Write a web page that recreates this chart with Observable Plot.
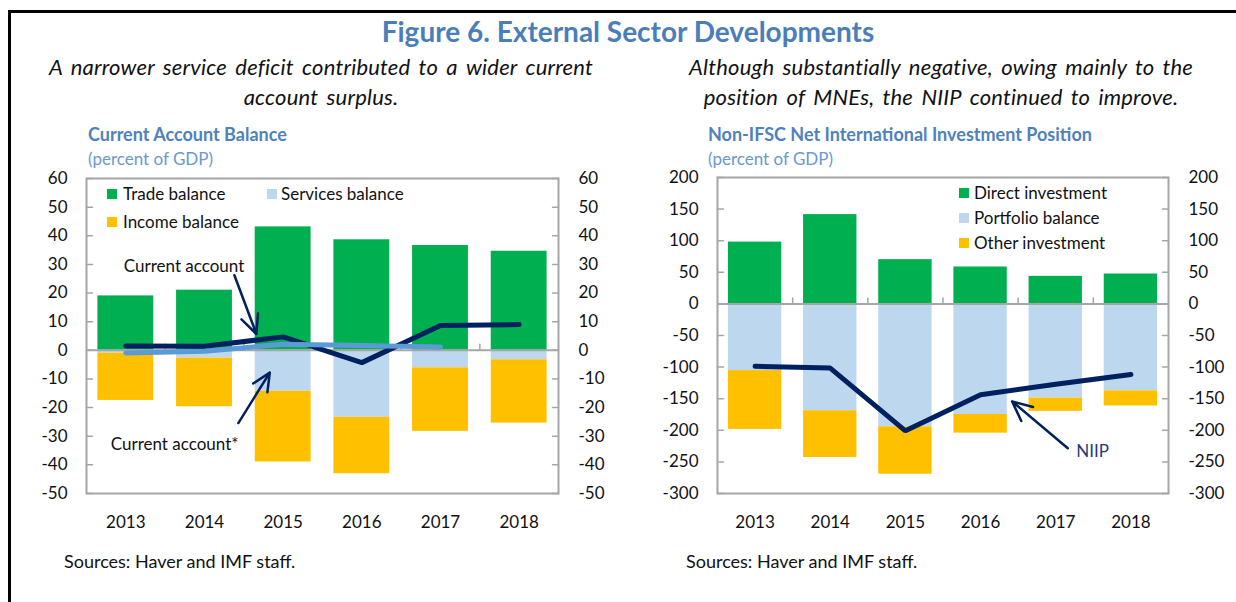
<!DOCTYPE html>
<html><head><meta charset="utf-8">
<script src="https://cdn.jsdelivr.net/npm/d3@7"></script>
<script src="https://cdn.jsdelivr.net/npm/@observablehq/plot@0.6"></script>
<style>
body{margin:0;background:#fff;}
#root{position:relative;width:1236px;height:602px;overflow:hidden;font-family:Lato,sans-serif;color:#111;}
.abs{position:absolute;white-space:nowrap;line-height:1;}
.sw{position:absolute;width:10px;height:10px;}
.chart{position:absolute;}
</style></head><body><div id="root"></div>
<script>
// ---------- data ----------
const years = [2013, 2014, 2015, 2016, 2017, 2018];
const tradeBalance    = [19.0, 21.0, 43.1, 38.6, 36.6, 34.6];
const servicesBalance = [-1.0, -2.7, -14.3, -23.4, -6.1, -3.3];
const incomeBalance   = [-16.5, -17.0, -24.7, -19.7, -22.2, -22.1];
const currentAccount  = [1.5, 1.4, 4.7, -4.3, 8.7, 9.0];
const caStarYears     = [2013, 2014, 2015, 2016, 2017];
const currentAccountStar = [-0.9, -0.3, 2.1, 1.7, 1.2];

const directInvestment = [97.8, 141.3, 70.0, 58.4, 43.6, 47.3];
const portfolioBalance = [-105.5, -169.0, -194.5, -175.0, -149.0, -137.5];
const otherInvestment  = [-93.1, -74.0, -75.0, -29.5, -21.0, -24.0];
const niip             = [-98.8, -101.5, -200.8, -143.7, -127.0, -111.8];

const leftTicks  = [-50, -40, -30, -20, -10, 0, 10, 20, 30, 40, 50, 60];
const rightTicks = [-300, -250, -200, -150, -100, -50, 0, 50, 100, 150, 200];
const leftSeries  = ["Trade balance", "Services balance", "Income balance"];
const rightSeries = ["Direct investment", "Portfolio balance", "Other investment"];

// ---------- styles ----------
const GREEN = "#00B050", LBLUE = "#BDD7EE", GOLD = "#FFC000", NAVY = "#002060", MBLUE = "#5B9BD5", GRAY = "#A6A6A6";
const palette = [GREEN, LBLUE, GOLD];
const half = 0.355;
const tickShape = {draw(ctx, l) { ctx.moveTo(0, 0); ctx.lineTo(0, -l); }};

function stackRows(seriesNames, arrays) {
  const rows = [];
  years.forEach((yr, i) => {
    let pos = 0, neg = 0;
    seriesNames.forEach((s, k) => {
      const v = arrays[k][i];
      let y1, y2;
      if (v >= 0) { y1 = pos; y2 = pos + v; pos = y2; } else { y1 = neg; y2 = neg + v; neg = y2; }
      rows.push({year: yr, series: s, y1, y2});
    });
  });
  return rows;
}

function makeChart({rows, series, domain, ticks, lines, arrows, labels, width, height, margins}) {
  const bounds = years.slice(0, -1).map(y => y + 0.5);
  return Plot.plot({
    width, height, ...margins,
    style: {fontFamily: "Lato, sans-serif", fontSize: "17px", color: "#111", background: "transparent", overflow: "visible"},
    x: {domain: [2012.5, 2018.5], label: null},
    y: {domain, label: null},
    color: {domain: series, range: palette},
    marks: [
      Plot.rect(rows, {x1: d => d.year - half, x2: d => d.year + half, y1: "y1", y2: "y2", fill: "series"}),
      Plot.ruleY([0], {stroke: GRAY, strokeWidth: 2}),
      Plot.vector(bounds, {x: d => d, y: 0, length: 6, rotate: 0, anchor: "start", shape: tickShape, stroke: GRAY, strokeWidth: 1.5}),
      Plot.frame({stroke: GRAY, strokeWidth: 2}),
      Plot.vector(ticks, {y: d => d, frameAnchor: "left", rotate: 90, length: 6, anchor: "start", shape: tickShape, stroke: GRAY, strokeWidth: 1.5}),
      Plot.vector(ticks, {y: d => d, frameAnchor: "right", rotate: -90, length: 6, anchor: "start", shape: tickShape, stroke: GRAY, strokeWidth: 1.5}),
      Plot.axisY({anchor: "left", ticks, tickSize: 0, tickPadding: 19, tickFormat: d => String(d)}),
      Plot.axisY({anchor: "right", ticks, tickSize: 0, tickPadding: 20, tickFormat: d => String(d)}),
      Plot.axisX({ticks: years, tickSize: 0, tickPadding: 22, tickFormat: d => String(d)}),
      ...lines.map(l => Plot.line(l.xs.map((x, i) => ({x, y: l.ys[i]})), {x: "x", y: "y", stroke: l.stroke, strokeWidth: 5, strokeLinejoin: "miter", strokeLinecap: "round"})),
      Plot.arrow(arrows, {x1: "x1", y1: "y1", x2: "x2", y2: "y2", stroke: NAVY, strokeWidth: 2.5, headLength: 13, headAngle: 50}),
      Plot.text(labels, {x: "x", y: "y", text: "text", fill: "fill", fontSize: 17})
    ]
  });
}

const root = document.getElementById("root");
function addText(txt, css) { const d = document.createElement("div"); d.className = "abs"; d.textContent = txt; Object.assign(d.style, css); root.appendChild(d); return d; }
function addSwatch(color, left, top) { const d = document.createElement("div"); d.className = "sw"; Object.assign(d.style, {background: color, left: left + "px", top: top + "px"}); root.appendChild(d); }

// border
const border = document.createElement("div");
Object.assign(border.style, {position: "absolute", left: "8px", top: "10px", width: "1240px", height: "600px", borderTop: "3px solid #000", borderLeft: "3px solid #000"});
root.appendChild(border);

// headings
addText("Figure 6. External Sector Developments", {left: "10px", width: "1236px", textAlign: "center", top: "17px", fontSize: "28px", fontWeight: "700", color: "#4A7EBB"});
const subCss = {width: "620px", textAlign: "center", fontSize: "22px", fontStyle: "italic", wordSpacing: "3px", letterSpacing: "0.2px"};
addText("A narrower service deficit contributed to a wider current", {...subCss, left: "11px", top: "56px"});
addText("account surplus.", {...subCss, left: "11px", top: "86px"});
addText("Although substantially negative, owing mainly to the", {...subCss, left: "631px", top: "56px"});
addText("position of MNEs, the NIIP continued to improve.", {...subCss, left: "631px", top: "86px"});

addText("Current Account Balance", {left: "88px", top: "125px", fontSize: "18px", fontWeight: "700", color: "#4F81BD"});
addText("(percent of GDP)", {left: "88px", top: "150px", fontSize: "17px", color: "#6A98CF"});
addText("Non-IFSC Net International Investment Position", {left: "708px", top: "125px", fontSize: "18px", fontWeight: "700", color: "#4F81BD"});
addText("(percent of GDP)", {left: "708px", top: "150px", fontSize: "17px", color: "#6A98CF"});

// charts
const leftChart = makeChart({
  rows: stackRows(leftSeries, [tradeBalance, servicesBalance, incomeBalance]),
  series: leftSeries, domain: [-50, 60], ticks: leftTicks,
  lines: [{xs: years, ys: currentAccount, stroke: NAVY}, {xs: caStarYears, ys: currentAccountStar, stroke: MBLUE}],
  arrows: [{x1: 2014.38, y1: 26.2, x2: 2014.66, y2: 5.7}, {x1: 2014.43, y1: -25.4, x2: 2014.83, y2: -7.8}],
  labels: [{x: 2013.74, y: 29.1, text: "Current account", fill: "#111"}, {x: 2013.62, y: -33.0, text: "Current account*", fill: "#111"}],
  width: 620, height: 380, margins: {marginLeft: 86, marginRight: 62, marginTop: 18, marginBottom: 47}
});
leftChart.classList.add("chart"); leftChart.style.left = "0px"; leftChart.style.top = "160px";
root.appendChild(leftChart);

const rightChart = makeChart({
  rows: stackRows(rightSeries, [directInvestment, portfolioBalance, otherInvestment]),
  series: rightSeries, domain: [-300, 200], ticks: rightTicks,
  lines: [{xs: years, ys: niip, stroke: NAVY}],
  arrows: [{x1: 2017.16, y1: -228.3, x2: 2016.42, y2: -154.3}],
  labels: [{x: 2017.49, y: -233.9, text: "NIIP", fill: "#1F3A7A"}],
  width: 616, height: 380, margins: {marginLeft: 97, marginRight: 68, marginTop: 17, marginBottom: 47}
});
rightChart.classList.add("chart"); rightChart.style.left = "620px"; rightChart.style.top = "160px";
root.appendChild(rightChart);

// legends
addSwatch(GREEN, 107, 189); addText("Trade balance", {left: "123px", top: "185px", fontSize: "17px"});
addSwatch(LBLUE, 267, 189); addText("Services balance", {left: "281px", top: "185px", fontSize: "17px"});
addSwatch(GOLD, 107, 217); addText("Income balance", {left: "123px", top: "213px", fontSize: "17px"});
addSwatch(GREEN, 959, 188); addText("Direct investment", {left: "974px", top: "184px", fontSize: "17px"});
addSwatch(LBLUE, 959, 213); addText("Portfolio balance", {left: "974px", top: "209px", fontSize: "17px"});
addSwatch(GOLD, 959, 238); addText("Other investment", {left: "974px", top: "234px", fontSize: "17px"});

// sources
addText("Sources: Haver and IMF staff.", {left: "64px", top: "552px", fontSize: "18px"});
addText("Sources: Haver and IMF staff.", {left: "686px", top: "552px", fontSize: "18px"});
</script></body></html>
